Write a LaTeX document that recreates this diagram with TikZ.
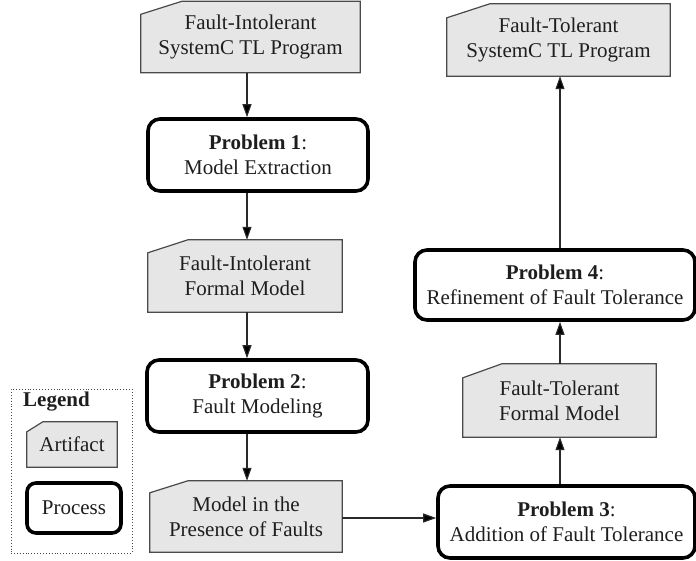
\documentclass[tikz,border=0pt]{standalone}
\usepackage{fontspec}
\setmainfont{Liberation Serif}
\usetikzlibrary{arrows.meta,calc,backgrounds}
\definecolor{artfill}{HTML}{E6E6E6}
\definecolor{artline}{HTML}{4A4A4A}
\definecolor{linecol}{HTML}{2A2A2A}
\definecolor{txtcol}{HTML}{1E1E1E}
\newcommand\artshape[3]{%
  \begin{pgfonlayer}{background}
  \filldraw[artborder] ($(#1.north west)+(0,#3)$) -- ($(#1.north west)+(#2,0)$) -- (#1.north east) -- (#1.south east) -- (#1.south west) -- cycle;
  \end{pgfonlayer}}
\tikzset{
  artborder/.style={fill=artfill, draw=artline, line width=1.2pt, line join=miter},
  artifact/.style={inner sep=0pt, align=center, text=txtcol},
  process/.style={draw=black, fill=white, line width=3.6pt, rounded corners=12pt, inner sep=0pt, align=center, text=txtcol},
  arr/.style={draw=linecol, line width=1.1pt, -{Triangle[length=13pt,width=9pt,fill=black]}},
}
\begin{document}
\begin{tikzpicture}[x=1pt,y=-1pt,font=\fontsize{21}{25}\selectfont]
\useasboundingbox (0,0) rectangle (696,560);
% left column
\node[artifact, minimum width=219pt, minimum height=71pt] (A1) at (250.5,37) {Fault-Intolerant\\SystemC TL Program};
\artshape{A1}{41}{13}
\node[process, minimum width=220pt, minimum height=72pt] (P1) at (258,155) {\textbf{Problem 1}:\\Model Extraction};
\node[artifact, minimum width=194pt, minimum height=72pt] (A2) at (245,276) {Fault-Intolerant\\Formal Model};
\artshape{A2}{40}{13}
\node[process, minimum width=221pt, minimum height=72pt] (P2) at (257.5,396) {\textbf{Problem 2}:\\Fault Modeling};
\node[artifact, minimum width=192pt, minimum height=71pt] (A3) at (246,516.5) {Model in the\\Presence of Faults};
\artshape{A3}{38}{12}
% right column
\node[process, minimum width=257pt, minimum height=72pt] (P3) at (566.5,522) {\textbf{Problem 3}:\\Addition of Fault Tolerance};
\node[artifact, minimum width=193pt, minimum height=73pt] (A4) at (559.5,400.5) {Fault-Tolerant\\Formal Model};
\artshape{A4}{39}{14}
\node[process, minimum width=280pt, minimum height=70pt] (P4) at (555,285) {\textbf{Problem 4}:\\Refinement of Fault Tolerance};
\node[artifact, minimum width=223pt, minimum height=72pt] (A5) at (558.5,40) {Fault-Tolerant\\SystemC TL Program};
\artshape{A5}{43}{14}
% connectors
\coordinate (colL) at (247,0);
\coordinate (colR) at (560,0);
\coordinate (rowB) at (0,518);
\draw[arr] (A1.south -| colL) -- (P1.north -| colL);
\draw[arr] (P1.south -| colL) -- (A2.north -| colL);
\draw[arr] (A2.south -| colL) -- (P2.north -| colL);
\draw[arr] (P2.south -| colL) -- (A3.north -| colL);
\draw[arr] (A3.east |- rowB) -- (P3.west |- rowB);
\draw[arr] (P3.north -| colR) -- (A4.south -| colR);
\draw[arr] (A4.north -| colR) -- (P4.south -| colR);
\draw[arr] (P4.north -| colR) -- (A5.south -| colR);
% legend
\node[draw=artline, dotted, line width=0.9pt, minimum width=121pt, minimum height=164pt, inner sep=0pt] (L) at (71.5,471) {};
\node[anchor=west, text=txtcol, inner sep=0pt] (Lt) at (23,402) {\textbf{Legend}};
\node[artifact, minimum width=90pt, minimum height=45pt] (LA) at (72,444.5) {Artifact};
\artshape{LA}{16}{10}
\node[process, minimum width=94pt, minimum height=50pt, rounded corners=9pt] (LP) at (74,508) {Process};
\end{tikzpicture}
\end{document}
